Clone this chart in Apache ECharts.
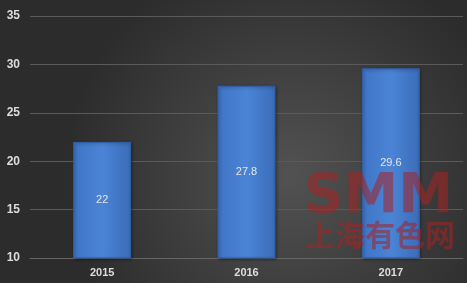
<!DOCTYPE html>
<html><head><meta charset="utf-8">
<script src="https://cdn.jsdelivr.net/npm/echarts@6/dist/echarts.min.js"></script>
<style>html,body{margin:0;padding:0;}#c{width:467px;height:283px;}</style>
</head><body><div id="c"></div>
<script>
const categories = ['2015', '2016', '2017'];
const values = [22, 27.8, 29.6];
const yTicks = [10, 15, 20, 25, 30, 35];

const chart = echarts.init(document.getElementById('c'));
chart.setOption({
  animation: false,
  backgroundColor: {
    type: 'radial', x: 0.62, y: 0.62, r: 0.8,
    colorStops: [{offset: 0, color: '#525252'}, {offset: 1, color: '#2c2c2c'}]
  },
  grid: {left: 30, right: 4, top: 16, bottom: 25},
  xAxis: {
    type: 'category', data: categories,
    axisLine: {show: true, lineStyle: {color: '#666666'}},
    axisTick: {show: false},
    axisLabel: {color: '#dddddd', fontWeight: 'bold', fontSize: 11, fontFamily: 'Liberation Sans', margin: 9}
  },
  yAxis: {
    type: 'value', min: yTicks[0], max: yTicks[yTicks.length - 1], interval: 5,
    axisLine: {show: false}, axisTick: {show: false},
    axisLabel: {color: '#dddddd', fontWeight: 'bold', fontSize: 12, fontFamily: 'Liberation Sans', margin: 10},
    splitLine: {lineStyle: {color: '#5a5a5a', width: 1}}
  },
  graphic: [
    {type: 'text', left: 304, top: 170, z: 100, style: {text: 'SMM', fontSize: 55, fontWeight: 'bold', fontFamily: 'DejaVu Sans', fill: 'rgba(165,35,35,0.55)'}},
    {type: 'text', left: 305, top: 220, z: 100, style: {text: '上海有色网', fontSize: 30, fontWeight: 'bold', fontFamily: 'Noto Sans CJK SC', fill: 'rgba(165,35,35,0.55)'}}
  ],
  series: [{
    type: 'bar', data: values, barWidth: 58,
    itemStyle: {
      color: {type: 'linear', x: 0, y: 0, x2: 1, y2: 0,
        colorStops: [{offset: 0, color: '#3f74c4'}, {offset: 0.5, color: '#4b84d6'}, {offset: 1, color: '#3a6cb8'}]},
      borderColor: '#2f5fa8', borderWidth: 1,
      shadowColor: 'rgba(0,0,0,0.4)', shadowBlur: 3, shadowOffsetX: 1, shadowOffsetY: 1
    },
    label: {show: true, position: 'inside', color: '#e6e6e6', fontSize: 11, fontFamily: 'Liberation Sans'}
  }]
});
</script></body></html>
